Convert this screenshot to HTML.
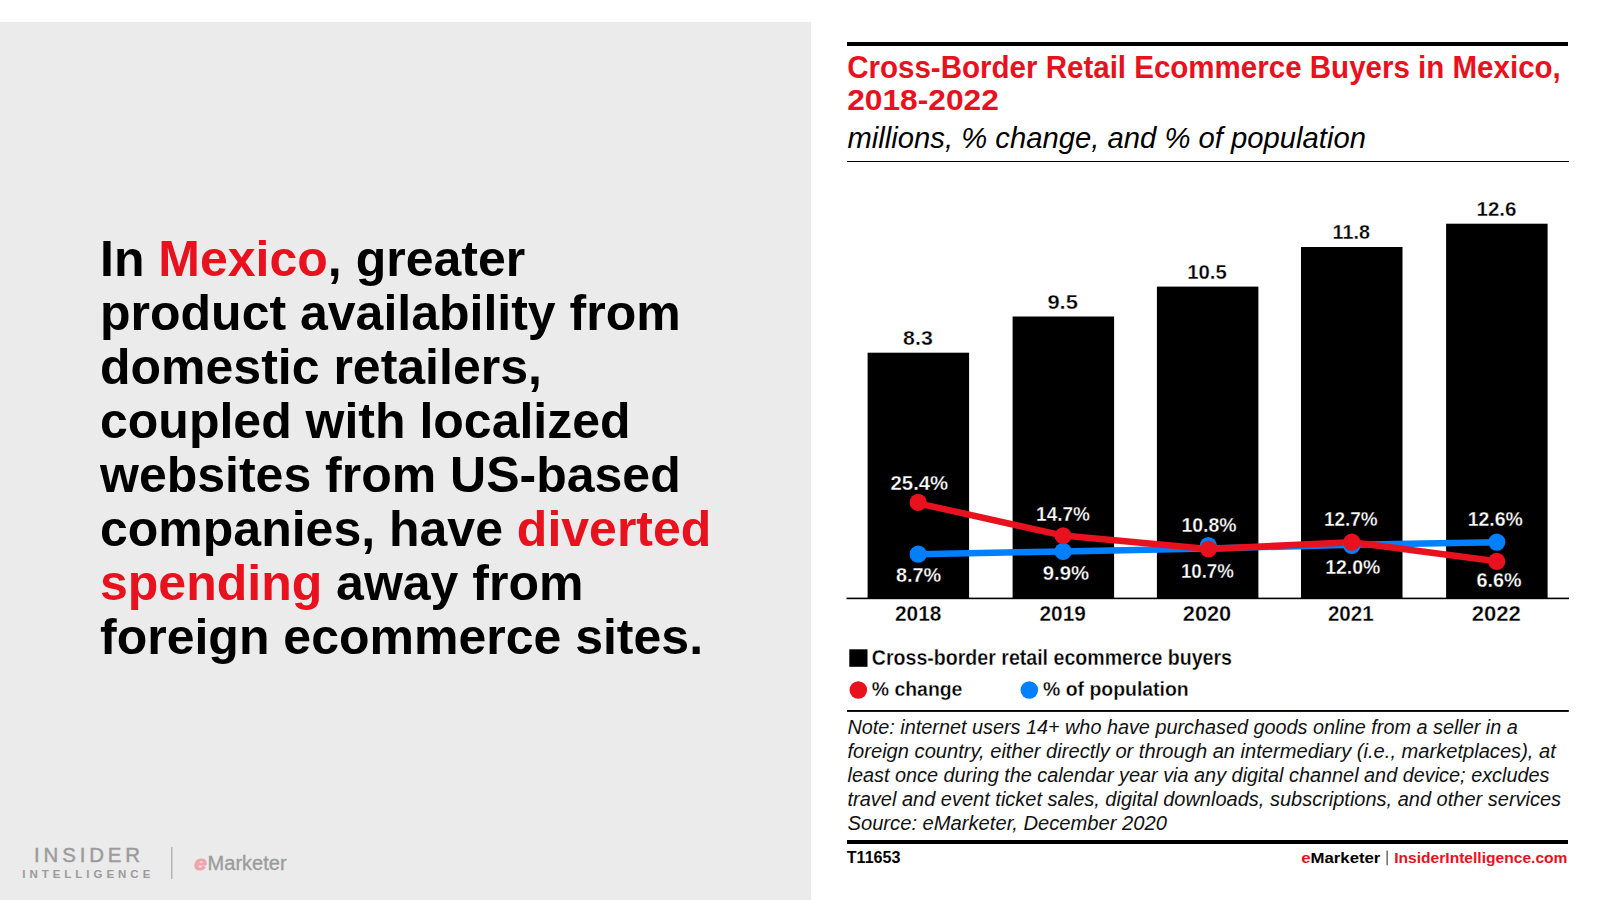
<!DOCTYPE html>
<html><head><meta charset="utf-8">
<style>
html,body{margin:0;padding:0;background:#fff;}
body{width:1600px;height:900px;position:relative;overflow:hidden;font-family:"Liberation Sans",Arial,sans-serif;}
.abs{position:absolute;white-space:nowrap;}
#left{position:absolute;left:0;top:22px;width:811px;height:878px;background:#ebebeb;}
#headline{position:absolute;left:100px;top:231.7px;font-weight:700;font-size:50px;line-height:54px;color:#000;}
.red{color:#e8111e;}
.rule{position:absolute;background:#000;}
</style></head>
<body>
<div id="left">
</div>
<div id="headline">In <span class="red">Mexico</span>, greater<br>product availability from<br>domestic retailers,<br>coupled with localized<br>websites from US-based<br>companies, have <span class="red">diverted</span><br><span class="red">spending</span> away from<br>foreign ecommerce sites.</div>

<!-- chart header -->
<div class="rule" style="left:847px;top:42px;width:721px;height:4px;"></div>
<div class="rule" style="left:847px;top:160.5px;width:722px;height:1.9px;"></div>

<svg class="abs" style="left:0;top:0" width="1600" height="900" viewBox="0 0 1600 900">
<g fill="#000">
<rect x="867.6" y="352.7" width="101.5" height="245.6"/>
<rect x="1012.6" y="316.5" width="101.5" height="281.8"/>
<rect x="1156.9" y="286.6" width="101.5" height="311.7"/>
<rect x="1301.0" y="247.0" width="101.5" height="351.3"/>
<rect x="1446.1" y="223.7" width="101.5" height="374.6"/>
</g>
<rect x="846.5" y="597.6" width="722.5" height="1.6" fill="#000"/>
<g font-family="Liberation Sans, Arial, sans-serif" font-weight="700" font-size="20" fill="#000" stroke="#fff" stroke-width="0.3">
<text x="903.1" y="345.3" textLength="29.7" lengthAdjust="spacingAndGlyphs">8.3</text>
<text x="1047.4" y="309.3" textLength="30.5" lengthAdjust="spacingAndGlyphs">9.5</text>
<text x="1187.3" y="279.4" textLength="39.5" lengthAdjust="spacingAndGlyphs">10.5</text>
<text x="1332.6" y="239.3" textLength="37.4" lengthAdjust="spacingAndGlyphs">11.8</text>
<text x="1476.5" y="216.3" textLength="39.9" lengthAdjust="spacingAndGlyphs">12.6</text>
</g>
<polyline points="918.2,554.2 1063.1,551.4 1208.3,548.6 1351.8,544.7 1496.8,542.2" fill="none" stroke="#007fff" stroke-width="6.5" stroke-linejoin="round"/>
<polyline points="918.2,503.3 1063.1,535.6 1208.5,548.9 1351.8,542.2 1496.7,561.3" fill="none" stroke="#e8111e" stroke-width="6.5" stroke-linejoin="round"/>
<circle cx="918.2" cy="554.2" r="8.6" fill="#007fff"/>
<circle cx="1063.1" cy="551.4" r="8.6" fill="#007fff"/>
<circle cx="1208.3" cy="545.6" r="8.6" fill="#007fff"/>
<circle cx="1351.8" cy="545.4" r="8.6" fill="#007fff"/>
<circle cx="1496.8" cy="542.1" r="8.6" fill="#007fff"/>
<circle cx="918.2" cy="502.4" r="8.6" fill="#e8111e"/>
<circle cx="1063.1" cy="535.75" r="8.6" fill="#e8111e"/>
<circle cx="1208.5" cy="549.0" r="8.6" fill="#e8111e"/>
<circle cx="1351.8" cy="542.2" r="8.6" fill="#e8111e"/>
<circle cx="1496.7" cy="561.4" r="8.6" fill="#e8111e"/>
<g font-family="Liberation Sans, Arial, sans-serif" font-weight="700" font-size="20" fill="#fff" stroke="#000" stroke-width="0.3">
<text x="890.5" y="489.75" textLength="57.7" lengthAdjust="spacingAndGlyphs">25.4%</text>
<text x="895.9" y="582.45" textLength="45.3" lengthAdjust="spacingAndGlyphs">8.7%</text>
<text x="1036.1" y="520.75" textLength="53.8" lengthAdjust="spacingAndGlyphs">14.7%</text>
<text x="1042.8" y="579.75" textLength="46.4" lengthAdjust="spacingAndGlyphs">9.9%</text>
<text x="1181.4" y="531.65" textLength="55.2" lengthAdjust="spacingAndGlyphs">10.8%</text>
<text x="1180.9" y="578.15" textLength="53.0" lengthAdjust="spacingAndGlyphs">10.7%</text>
<text x="1323.9" y="526.25" textLength="53.8" lengthAdjust="spacingAndGlyphs">12.7%</text>
<text x="1325.2" y="573.85" textLength="55.2" lengthAdjust="spacingAndGlyphs">12.0%</text>
<text x="1467.7" y="526.25" textLength="55.1" lengthAdjust="spacingAndGlyphs">12.6%</text>
<text x="1476.5" y="587.25" textLength="45.0" lengthAdjust="spacingAndGlyphs">6.6%</text>
</g>
<g font-family="Liberation Sans, Arial, sans-serif" font-weight="700" font-size="21.5" fill="#000" stroke="#fff" stroke-width="0.3">
<text x="895.0" y="620.7" textLength="46.4" lengthAdjust="spacingAndGlyphs">2018</text>
<text x="1039.5" y="620.7" textLength="46.4" lengthAdjust="spacingAndGlyphs">2019</text>
<text x="1182.8" y="620.7" textLength="48.4" lengthAdjust="spacingAndGlyphs">2020</text>
<text x="1327.9" y="620.7" textLength="45.7" lengthAdjust="spacingAndGlyphs">2021</text>
<text x="1471.7" y="620.7" textLength="49.2" lengthAdjust="spacingAndGlyphs">2022</text>
</g>
<g font-family="Liberation Sans, Arial, sans-serif" font-weight="700" font-size="31.5" fill="#e8111e">
<text x="847.2" y="78.4" textLength="713.6" lengthAdjust="spacingAndGlyphs">Cross-Border Retail Ecommerce Buyers in Mexico,</text>
<text x="847.2" y="110.2" font-size="30" textLength="151.6" lengthAdjust="spacingAndGlyphs">2018-2022</text>
</g>
<text font-family="Liberation Sans, Arial, sans-serif" font-style="italic" font-size="29" fill="#000" x="847.5" y="147.5" textLength="518.5" lengthAdjust="spacingAndGlyphs">millions, % change, and % of population</text>
<rect x="849.3" y="649.3" width="18.2" height="17.5" fill="#000"/>
<g font-family="Liberation Sans, Arial, sans-serif" font-weight="700" font-size="20" fill="#000" stroke="#fff" stroke-width="0.3">
<text x="871.8" y="665.3" font-size="21.5" textLength="360.2" lengthAdjust="spacingAndGlyphs">Cross-border retail ecommerce buyers</text>
<text x="871.8" y="696.3" textLength="90.6" lengthAdjust="spacingAndGlyphs">% change</text>
<text x="1043" y="696.3" textLength="145.7" lengthAdjust="spacingAndGlyphs">% of population</text>
</g>
<circle cx="858.3" cy="690" r="8.8" fill="#e8111e"/>
<circle cx="1029.3" cy="690" r="8.8" fill="#007fff"/>
<rect x="847" y="710" width="721.8" height="1.9" fill="#000"/>
<g font-family="Liberation Sans, Arial, sans-serif" font-style="italic" font-size="19.5" fill="#111">
<text x="847.5" y="733.8" textLength="670.3" lengthAdjust="spacingAndGlyphs">Note: internet users 14+ who have purchased goods online from a seller in a</text>
<text x="847.5" y="757.8" textLength="708.3" lengthAdjust="spacingAndGlyphs">foreign country, either directly or through an intermediary (i.e., marketplaces), at</text>
<text x="847.5" y="781.8" textLength="702.0" lengthAdjust="spacingAndGlyphs">least once during the calendar year via any digital channel and device; excludes</text>
<text x="847.5" y="805.8" textLength="713.6" lengthAdjust="spacingAndGlyphs">travel and event ticket sales, digital downloads, subscriptions, and other services</text>
<text x="847.5" y="829.8" textLength="319.4" lengthAdjust="spacingAndGlyphs">Source: eMarketer, December 2020</text>
</g>
<text font-family="Liberation Sans, Arial, sans-serif" font-weight="700" font-size="16" fill="#000" x="846.8" y="863.2" textLength="53.6" lengthAdjust="spacingAndGlyphs">T11653</text>
<text font-family="Liberation Sans, Arial, sans-serif" font-weight="700" font-size="15.5" x="1301.2" y="863" textLength="79.2" lengthAdjust="spacingAndGlyphs"><tspan fill="#e8111e">e</tspan><tspan fill="#000">Marketer</tspan></text>
<rect x="1386.5" y="850.6" width="1.3" height="14.7" fill="#555"/>
<text font-family="Liberation Sans, Arial, sans-serif" font-weight="700" font-size="15.5" fill="#e8111e" x="1394.2" y="863" textLength="173.3" lengthAdjust="spacingAndGlyphs">InsiderIntelligence.com</text>
<g font-family="Liberation Sans, Arial, sans-serif" fill="#9b9b9b">
<text x="34" y="862.2" font-size="20.4" stroke="#9b9b9b" stroke-width="0.45" textLength="106" lengthAdjust="spacing">INSIDER</text>
<text x="22.3" y="878.3" font-size="11.5" font-weight="700" textLength="128" lengthAdjust="spacing">INTELLIGENCE</text>
<rect x="171.2" y="847" width="1.2" height="32" fill="#a8a8a8"/>
<text x="207.6" y="870.1" font-size="20.5" stroke="#9b9b9b" stroke-width="0.35" textLength="79" lengthAdjust="spacingAndGlyphs">Marketer</text>
</g>
<text x="194.2" y="870.2" font-family="Liberation Sans, Arial, sans-serif" font-weight="700" font-style="italic" font-size="21" fill="#eea5ac" stroke="#eea5ac" stroke-width="0.9" stroke-linejoin="round" textLength="12.6" lengthAdjust="spacingAndGlyphs">e</text>
</svg>

<div class="rule" style="left:847px;top:840px;width:721px;height:4px;"></div>
</body></html>
